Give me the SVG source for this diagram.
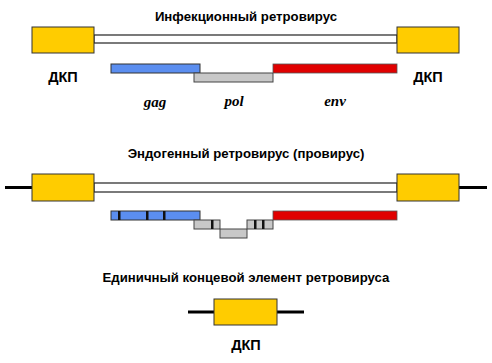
<svg xmlns="http://www.w3.org/2000/svg" width="492" height="363" viewBox="0 0 492 363">
<style>
.ltr{fill:#FFCC00;stroke:#333;stroke-width:1}
.dbl{fill:#fff;stroke:#222;stroke-width:1.2}
.gag{fill:#5B8EF0;stroke:#333;stroke-width:1}
.pol{fill:#C8C8C8;stroke:#444;stroke-width:1}
.env{fill:#E00000;stroke:#555;stroke-width:0.8}
.mk{fill:#111}
.flank{stroke:#000;stroke-width:3}
.title{font-family:"Liberation Sans",Arial,sans-serif;font-weight:bold;font-size:13.2px;fill:#000;text-anchor:middle}
.lbl{font-family:"Liberation Sans",Arial,sans-serif;font-weight:bold;font-size:14.5px;fill:#000;text-anchor:middle}
.gene{font-family:"Liberation Serif","Times New Roman",serif;font-weight:bold;font-style:italic;font-size:15px;fill:#000;text-anchor:middle}
</style>
<rect width="492" height="363" fill="#fff"/>
<g id="section1">
<text class="title" x="246" y="21">Инфекционный ретровирус</text>
<g id="s1-backbone"><rect class="dbl" x="94" y="35" width="303" height="8"/></g>
<g id="s1-ltr-left"><rect class="ltr" x="32" y="27" width="62" height="26"/><text class="lbl" x="63" y="82">ДКП</text></g>
<g id="s1-ltr-right"><rect class="ltr" x="397" y="27" width="62" height="26"/><text class="lbl" x="428" y="82">ДКП</text></g>
<g id="s1-gag"><rect class="gag" x="111" y="64" width="89" height="9"/><text class="gene" x="155" y="107">gag</text></g>
<g id="s1-pol"><rect class="pol" x="194" y="73" width="79" height="9"/><text class="gene" x="234" y="106">pol</text></g>
<g id="s1-env"><rect class="env" x="273" y="64" width="124" height="9"/><text class="gene" x="335" y="106">env</text></g>
</g>
<g id="section2">
<text class="title" x="246" y="158">Эндогенный ретровирус (провирус)</text>
<g id="connectors"><line class="flank" x1="5" y1="187.5" x2="32" y2="187.5"/><line class="flank" x1="459" y1="187.5" x2="487" y2="187.5"/><line class="flank" x1="188" y1="312" x2="214" y2="312"/><line class="flank" x1="277" y1="312" x2="304" y2="312"/></g>
<g id="s2-backbone"><rect class="dbl" x="94" y="183" width="303" height="9"/></g>
<g id="s2-ltr-left"><rect class="ltr" x="32" y="174" width="62" height="27"/></g>
<g id="s2-ltr-right"><rect class="ltr" x="397" y="174" width="62" height="27"/></g>
<g id="s2-gag"><rect class="gag" x="111" y="211" width="89" height="9"/><rect class="mk" x="118" y="211" width="2.5" height="9"/><rect class="mk" x="146" y="211" width="2.5" height="9"/><rect class="mk" x="163" y="211" width="2.5" height="9"/></g>
<g id="s2-pol"><rect class="pol" x="194" y="220" width="26" height="9"/><rect class="mk" x="211" y="220" width="2.5" height="9"/><rect class="pol" x="220" y="229" width="27" height="9"/><rect class="pol" x="247" y="220" width="26" height="9"/><rect class="mk" x="254" y="220" width="2.5" height="9"/><rect class="mk" x="262" y="220" width="2.5" height="9"/></g>
<g id="s2-env"><rect class="env" x="273" y="211" width="124" height="9"/></g>
</g>
<g id="section3">
<text class="title" x="246" y="282">Единичный концевой элемент ретровируса</text>
<g id="s3-ltr"><rect class="ltr" x="214" y="299" width="63" height="26"/><text class="lbl" x="246" y="350">ДКП</text></g>
</g>
</svg>
